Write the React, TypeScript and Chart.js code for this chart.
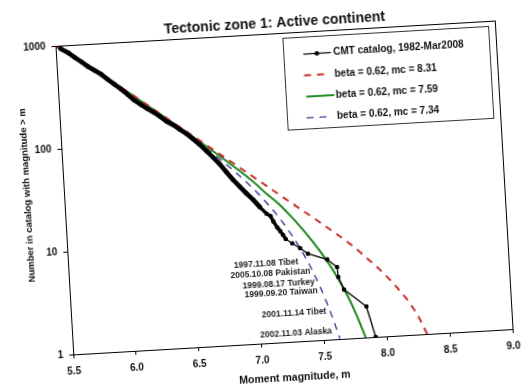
import React, { useEffect, useRef } from "react";
import { Chart, registerables } from "chart.js";

Chart.register(...registerables);

// ---------- data ----------
const titleText = "Tectonic zone 1: Active continent";
const xTitle = "Moment magnitude, m";
const yTitle = "Number in catalog with magnitude > m";

const xTicks = [5.5, 6.0, 6.5, 7.0, 7.5, 8.0, 8.5, 9.0];
const yTicks = [1, 10, 100, 1000];

// CMT catalog, 1982-Mar2008 (cumulative number vs magnitude)
const catalogM = [
  5.54, 5.6, 5.65, 5.7, 5.75, 5.8, 5.85, 5.9, 5.95, 6.0, 6.05, 6.1, 6.15, 6.2, 6.25, 6.3, 6.35,
  6.4, 6.45, 6.5, 6.55, 6.6, 6.65, 6.7, 6.75, 6.8, 6.85, 6.9, 6.95, 7.0, 7.05, 7.1, 7.13, 7.15,
  7.18, 7.2, 7.22, 7.24, 7.29, 7.35, 7.41, 7.56, 7.635, 7.64, 7.68, 7.85, 7.91,
];
const catalogN = [
  933, 841, 750, 676, 603, 550, 501, 442, 394, 351, 309, 269, 243, 219, 200, 180, 160,
  147, 132, 119, 105, 92, 79, 68, 58, 48, 40, 34, 29, 25, 21, 18, 17, 15,
  13, 12, 11, 10, 9, 8, 7, 6, 5, 4, 3, 2, 1,
];

// beta = 0.62, mc = 8.31
const redM = [5.5, 6.0, 6.5, 7.0, 7.25, 7.5, 7.75, 7.9, 8.0, 8.1, 8.2, 8.26, 8.32];
const redN = [1000, 366, 125, 42.7, 24.8, 14.45, 8.22, 5.5, 4.12, 2.95, 2.0, 1.48, 1.0];

// beta = 0.62, mc = 7.59
const greenM = [5.5, 5.75, 6.0, 6.25, 6.5, 6.75, 7.0, 7.1, 7.2, 7.3, 7.4, 7.5, 7.6, 7.7, 7.75, 7.8, 7.83];
const greenN = [1000, 624, 365, 212, 123, 69.8, 38.2, 28.8, 22.1, 16.0, 11.2, 7.5, 4.73, 2.69, 1.91, 1.29, 1.0];

// beta = 0.62, mc = 7.34
const blueM = [5.5, 5.75, 6.0, 6.25, 6.5, 6.75, 6.9, 7.0, 7.1, 7.2, 7.3, 7.35, 7.4, 7.45, 7.5, 7.55, 7.58, 7.6, 7.625];
const blueN = [1000, 622, 363, 210, 119.4, 65.3, 43.7, 32.6, 23.4, 16.1, 10.3, 8.0, 6.03, 4.4, 3.08, 2.06, 1.57, 1.3, 1.01];

const legendLabels = [
  "CMT catalog, 1982-Mar2008",
  "beta = 0.62, mc = 8.31",
  "beta = 0.62, mc = 7.59",
  "beta = 0.62, mc = 7.34",
];

const quakeLabels = [
  "1997.11.08 Tibet",
  "2005.10.08 Pakistan",
  "1999.08.17 Turkey",
  "1999.09.20 Taiwan",
  "2001.11.14 Tibet",
  "2002.11.03 Alaska",
];
const quakeLabelM = [7.33, 7.42, 7.45, 7.47, 7.53, 7.565];
const quakeLabelN = [5.9, 4.7, 3.7, 3.0, 1.9, 1.2];

// ---------- styles ----------
const FONT = "'Liberation Sans', Arial, sans-serif";
const RED = "#c8302c";
const GREEN = "#1f8a1f";
const BLUE = "#3c3c9c";
const INK = "#111";

const toXY = (xs: number[], ys: number[]) => xs.map((x, i) => ({ x, y: ys[i] }));

const framePlugin = {
  id: "frame",
  afterDraw(chart: any) {
    const { ctx, chartArea: a } = chart;
    ctx.save();
    ctx.strokeStyle = "#000";
    ctx.lineWidth = 1;
    ctx.strokeRect(Math.round(a.left) + 0.5, Math.round(a.top) + 0.5, Math.round(a.right - a.left), Math.round(a.bottom - a.top));
    // y axis title
    ctx.translate(a.left - 37, (a.top + a.bottom) / 2 - 7);
    ctx.rotate(-Math.PI / 2);
    ctx.font = `bold 9.5px ${FONT}`;
    ctx.fillStyle = INK;
    ctx.textAlign = "center";
    ctx.textBaseline = "middle";
    ctx.fillText(yTitle, 0, 0);
    ctx.restore();
  },
};

const quakeLabelPlugin = {
  id: "quakeLabels",
  afterDatasetsDraw(chart: any) {
    const { ctx, scales } = chart;
    ctx.save();
    ctx.font = `bold 8.5px ${FONT}`;
    ctx.fillStyle = "#222";
    ctx.textAlign = "right";
    ctx.textBaseline = "middle";
    quakeLabels.forEach((t, i) => {
      ctx.fillText(t, scales.x.getPixelForValue(quakeLabelM[i]), scales.y.getPixelForValue(quakeLabelN[i]));
    });
    ctx.restore();
  },
};

const legendPlugin = {
  id: "boxLegend",
  afterDraw(chart: any) {
    const { ctx, chartArea: a } = chart;
    const W = 206;
    const H = 92;
    const L = Math.round(a.right - 213.5) + 0.5;
    const T = Math.round(a.top + 5) + 0.5;
    ctx.save();
    ctx.fillStyle = "#fff";
    ctx.fillRect(L, T, W, H);
    ctx.strokeStyle = "#333";
    ctx.lineWidth = 1;
    ctx.strokeRect(L, T, W, H);
    const rowY = (i: number) => T + 17 + i * 21.3;
    // row 0: catalog line with dot
    ctx.strokeStyle = "#000";
    ctx.lineWidth = 1.2;
    ctx.beginPath();
    ctx.moveTo(L + 19.5, rowY(0));
    ctx.lineTo(L + 47, rowY(0));
    ctx.stroke();
    ctx.fillStyle = "#000";
    ctx.beginPath();
    ctx.arc(L + 33, rowY(0), 2.3, 0, Math.PI * 2);
    ctx.fill();
    // row 1: red dashed
    ctx.strokeStyle = RED;
    ctx.lineWidth = 2;
    ctx.setLineDash([7, 6]);
    ctx.beginPath();
    ctx.moveTo(L + 19, rowY(1));
    ctx.lineTo(L + 42, rowY(1));
    ctx.stroke();
    // row 2: green solid
    ctx.setLineDash([]);
    ctx.strokeStyle = GREEN;
    ctx.lineWidth = 2;
    ctx.beginPath();
    ctx.moveTo(L + 20, rowY(2));
    ctx.lineTo(L + 48, rowY(2));
    ctx.stroke();
    // row 3: blue dashed
    ctx.strokeStyle = BLUE;
    ctx.lineWidth = 1.4;
    ctx.setLineDash([7, 6]);
    ctx.beginPath();
    ctx.moveTo(L + 19, rowY(3));
    ctx.lineTo(L + 42, rowY(3));
    ctx.stroke();
    ctx.setLineDash([]);
    // texts
    ctx.fillStyle = INK;
    ctx.font = `bold 10px ${FONT}`;
    ctx.textAlign = "left";
    ctx.textBaseline = "middle";
    legendLabels.forEach((t, i) => ctx.fillText(t, L + 49.5, rowY(i)));
    ctx.restore();
  },
};

export default function App() {
  const ref = useRef<HTMLCanvasElement | null>(null);

  useEffect(() => {
    if (!ref.current) return;
    const tickFont = { family: FONT, size: 10, weight: "bold" as const };
    const chart = new Chart(ref.current, {
      type: "line",
      data: {
        datasets: [
          {
            label: legendLabels[0],
            data: toXY(catalogM, catalogN),
            borderColor: "#000",
            backgroundColor: "#000",
            borderWidth: 1.3,
            borderCapStyle: "round",
            borderJoinStyle: "round",
            pointRadius: 2.3,
            pointBorderWidth: 0,
            pointBackgroundColor: "#000",
            tension: 0,
            segment: {
              borderWidth: (c: any) => (c.p1.parsed.y >= 20 ? 4.6 : c.p1.parsed.y >= 10 ? 3.4 : 1.3),
            },
          } as any,
          {
            label: legendLabels[1],
            data: toXY(redM, redN),
            borderColor: RED,
            borderWidth: 2,
            borderDash: [7, 6],
            pointRadius: 0,
            cubicInterpolationMode: "monotone",
          },
          {
            label: legendLabels[2],
            data: toXY(greenM, greenN),
            borderColor: GREEN,
            borderWidth: 2,
            pointRadius: 0,
            cubicInterpolationMode: "monotone",
          },
          {
            label: legendLabels[3],
            data: toXY(blueM, blueN),
            borderColor: BLUE,
            borderWidth: 1.4,
            borderDash: [7, 6],
            pointRadius: 0,
            cubicInterpolationMode: "monotone",
          },
        ],
      },
      options: {
        responsive: false,
        animation: false,
        devicePixelRatio: 1,
        layout: { padding: { left: 0, right: 24, top: 0, bottom: 0 } },
        plugins: {
          legend: { display: false },
          tooltip: { enabled: false },
          title: {
            display: true,
            text: titleText,
            fullSize: false,
            color: INK,
            font: { family: FONT, size: 14, weight: "bold" },
            padding: { top: 14.6, bottom: 1.6 },
          },
        },
        scales: {
          x: {
            type: "linear",
            min: 5.5,
            max: 9.0,
            afterBuildTicks: (s: any) => {
              s.ticks = xTicks.map((v) => ({ value: v }));
            },
            afterFit: (s: any) => {
              s.height = 42;
              s.paddingLeft = 0;
              s.paddingRight = 0;
            },
            ticks: {
              callback: (v: any) => Number(v).toFixed(1),
              font: tickFont,
              color: INK,
              padding: 7.5,
              maxRotation: 0,
              autoSkip: false,
            },
            grid: { display: true, drawOnChartArea: false, drawTicks: true, tickLength: 4, color: "#000" },
            border: { display: true, color: "#000", width: 1 },
            title: {
              display: true,
              text: xTitle,
              color: INK,
              font: { family: FONT, size: 10.5, weight: "bold" },
              padding: { top: 0, bottom: 0 },
            },
          },
          y: {
            type: "logarithmic",
            min: 1,
            max: 1000,
            afterBuildTicks: (s: any) => {
              s.ticks = yTicks.map((v) => ({ value: v }));
            },
            afterFit: (s: any) => {
              s.width = 64;
              s.paddingTop = 0;
              s.paddingBottom = 0;
            },
            ticks: {
              callback: (v: any) => String(v),
              font: tickFont,
              color: INK,
              padding: 6,
              autoSkip: false,
            },
            grid: { display: true, drawOnChartArea: false, drawTicks: true, tickLength: 4, color: "#000" },
            border: { display: true, color: "#000", width: 1 },
            title: { display: false, text: yTitle },
          },
        },
      },
      plugins: [quakeLabelPlugin, framePlugin, legendPlugin],
    } as any);
    return () => chart.destroy();
  }, []);

  return (
    <div style={{ position: "fixed", left: 0, top: 0, width: 528, height: 384, overflow: "hidden", background: "#fff" }}>
      <canvas
        ref={ref}
        width={528}
        height={384}
        style={{
          width: 528,
          height: 384,
          display: "block",
          transform: "rotate(-3.3deg)",
          transformOrigin: "284px 187.5px",
        }}
      />
    </div>
  );
}
